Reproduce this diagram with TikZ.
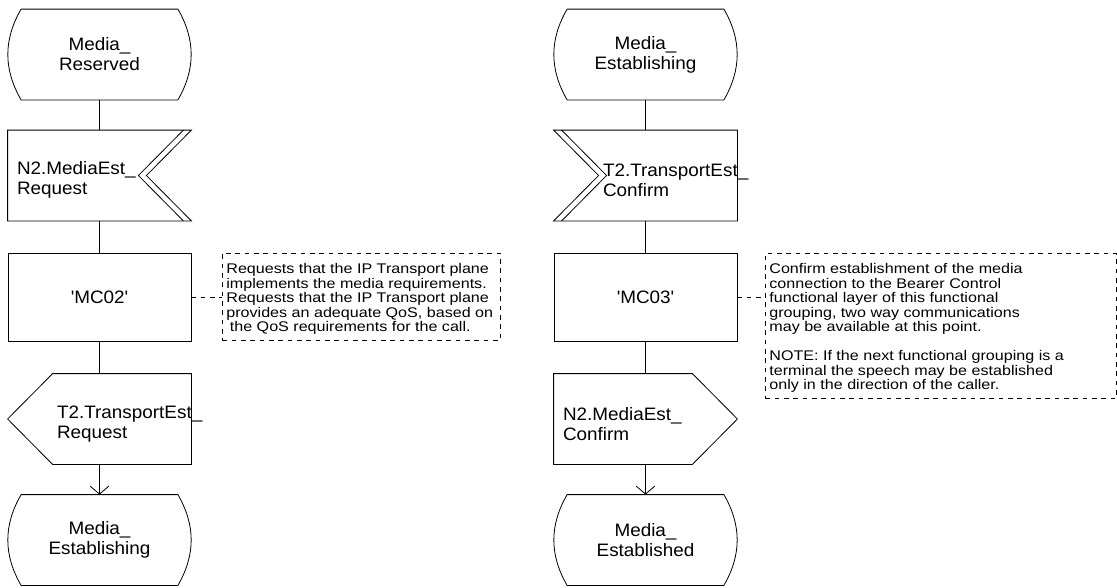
\documentclass[tikz,border=0pt]{standalone}
\usepackage{fontspec}
\setmainfont{Liberation Sans}[FakeStretch=1.05]
\newfontfamily\notefont{Liberation Sans}[FakeStretch=1.15]
\usetikzlibrary{calc, arrows.meta}
\hyphenpenalty=10000

\begin{document}
\begin{tikzpicture}[x=0.75pt, y=-0.75pt, line width=0.6pt,
    sdlbox/.style={rectangle, inner sep=0pt, minimum width=137.25pt, minimum height=67.5pt, font=\fontsize{13.5}{15}\selectfont},
    sdlstate/.style={sdlbox, minimum width=117pt, align=center, execute at begin node={\rule{0pt}{17pt}}},
    sdltask/.style={sdlbox, draw, minimum height=66pt, align=center},
    sdlsig/.style={sdlbox, align=left, text width=#1, execute at begin node={\rule{0pt}{17pt}}},
    sdlnote/.style={rectangle, draw, dash pattern=on 3.5pt off 3.5pt, inner sep=0pt, anchor=north west},
    notetext/.style={anchor=north west, align=left, inner xsep=3pt, inner ysep=7.5pt, font=\notefont\fontsize{10.5}{10.9}\selectfont},
    flow/.style={-{Straight Barb[length=6pt, width=14pt]}},
    notelink/.style={dash pattern=on 3.5pt off 3.5pt}]
    \useasboundingbox (0,0) rectangle (1117,587);

    \node[sdlstate] (st1) at (99.5,54.5) {Media\_\\Reserved};
    \node[sdlsig=123.75pt] (in1) at (99.5,175.5) {N2.MediaEst\_\\Request};
    \node[sdltask] (t1) at (99.5,297) {\textquotesingle MC02\textquotesingle};
    \node[sdlsig=63.75pt] (out1) at (99.5,419) {T2.TransportEst\_\\Request};
    \node[sdlstate] (st2) at (99.5,540) {Media\_\\Establishing};

    \node[sdlstate] (st3) at (645.5,54.5) {Media\_\\Establishing};
    \node[sdlsig=63.75pt] (in2) at (645.5,175.5) {T2.TransportEst\_\\Confirm};
    \node[sdltask] (t2) at (645.5,297) {\textquotesingle MC03\textquotesingle};
    \node[sdlsig=123.75pt] (out2) at (645.5,419) {N2.MediaEst\_\\Confirm};
    \node[sdlstate] (st4) at (645.5,540) {Media\_\\Established};

    \node[sdlnote, minimum width=208.5pt, minimum height=65.25pt,
        label={[notetext]north west:{Requests that the IP Transport plane\\implements the media requirements.\\Requests that the IP Transport plane\\provides an adequate QoS, based on\\\hspace*{.25em}the QoS requirements for the call.}}] (c1) at (222,253) {};
    \node[sdlnote, minimum width=263.25pt, minimum height=108.75pt,
        label={[notetext]north west:{Confirm establishment of the media\\connection to the Bearer Control\\functional layer of this functional\\grouping, two way communications\\may be available at this point.\\[10.9pt]NOTE: If the next functional grouping is a\\terminal the speech may be established\\only in the direction of the caller.}}] (c2) at (765,253) {};

    \foreach \s in {st1, st2, st3, st4}
        \draw (\s.north west) -- (\s.north east) to[bend left=30] (\s.south east) -- (\s.south west) to[bend left=30] (\s.north west);

    \draw (in1.north west) -- (in1.north east) -- ($(in1.east)+(-45,0)$) -- (in1.south east) -- (in1.south west) -- cycle;
    \draw ($(in1.north east)+(-8,0)$) -- ($(in1.east)+(-53,0)$) -- ($(in1.south east)+(-8,0)$);
    \draw (in2.north east) -- (in2.north west) -- ($(in2.west)+(45,0)$) -- (in2.south west) -- (in2.south east) -- cycle;
    \draw ($(in2.north west)+(8,0)$) -- ($(in2.west)+(53,0)$) -- ($(in2.south west)+(8,0)$);

    \draw (out1.north east) -- ($(out1.north west)+(45,0)$) -- (out1.west) -- ($(out1.south west)+(45,0)$) -- (out1.south east) -- cycle;
    \draw (out2.north west) -- ($(out2.north east)+(-45,0)$) -- (out2.east) -- ($(out2.south east)+(-45,0)$) -- (out2.south west) -- cycle;

    \draw (st1) -- (in1);
    \draw (in1) -- (t1);
    \draw (t1) -- (out1);
    \draw[flow] (out1) -- (st2);
    \draw (st3) -- (in2);
    \draw (in2) -- (t2);
    \draw (t2) -- (out2);
    \draw[flow] (out2) -- (st4);

    \draw[notelink] (t1.east) -- (t1.east -| c1.west);
    \draw[notelink] (t2.east) -- (t2.east -| c2.west);
\end{tikzpicture}
\end{document}
